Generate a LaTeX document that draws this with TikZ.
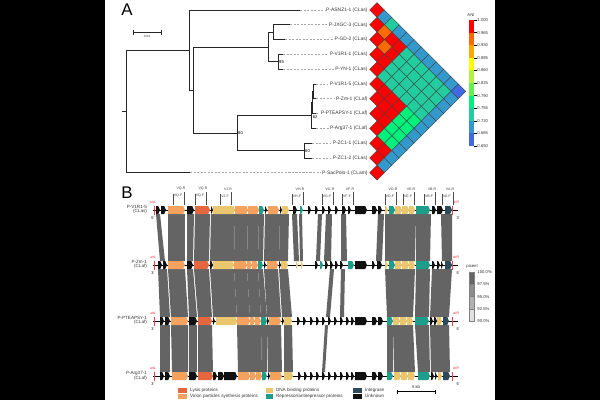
\documentclass[tikz,border=0pt]{standalone}
\usepackage{fontspec}
\setmainfont{Liberation Sans}
\usetikzlibrary{positioning}
\definecolor{anir}{HTML}{FF0000}
\definecolor{anio}{HTML}{FF6A00}
\definecolor{anin}{HTML}{FFA800}
\definecolor{aniy}{HTML}{FFFF00}
\definecolor{aniv}{HTML}{B4F03C}
\definecolor{anil}{HTML}{66F050}
\definecolor{anig}{HTML}{00F07C}
\definecolor{anit}{HTML}{22CC9E}
\definecolor{anis}{HTML}{3399CC}
\definecolor{anib}{HTML}{4169E1}
\definecolor{lyscol}{HTML}{E4673F}
\definecolor{vircol}{HTML}{F4A25E}
\definecolor{dnacol}{HTML}{EAC66E}
\definecolor{repcol}{HTML}{1E9E8A}
\definecolor{intcol}{HTML}{2D4B5B}
\definecolor{unkcol}{HTML}{111111}
\definecolor{attred}{HTML}{E8404F}
\definecolor{bandgray}{HTML}{646464}
\tikzset{panel/.style={inner sep=0pt, font=\fontsize{24}{24}\selectfont}}
\tikzset{branch/.style={line width=1.3pt, black!85}}
\tikzset{leafdash/.style={gray!70, dash pattern=on 3pt off 2pt, line width=0.9pt}}
\tikzset{leaflab/.style={anchor=east, inner sep=0.5pt, font=\fontsize{7}{8}\selectfont, text=black!80}}
\tikzset{boot/.style={anchor=west, inner sep=0.5pt, font=\fontsize{6}{7}\selectfont}}
\tikzset{cell/.style={draw=black!75, line width=0.5pt}}
\tikzset{tinylab/.style={inner sep=0.5pt, font=\fontsize{6}{7}\selectfont, text=black!80}}
\tikzset{tracklab/.style={anchor=east, inner sep=0pt, font=\fontsize{6.5}{7}\selectfont, text=black!80}}
\tikzset{attlab/.style={inner sep=0pt, font=\fontsize{5}{6}\selectfont, text=attred}}
\tikzset{endlab/.style={inner sep=0pt, font=\fontsize{5.5}{6}\selectfont}}
\tikzset{primer/.style={inner sep=0pt, font=\fontsize{5}{6}\selectfont, text=black!75}}
\tikzset{leglab/.style={anchor=west, inner sep=0pt, font=\fontsize{6.5}{7}\selectfont, text=black!80}}
\newcommand{\anirow}[2]{%
  \foreach \c [count=\k from #1] in {#2} {
    \pgfmathsetmacro\cx{377+(\k-#1)*7.4}
    \pgfmathsetmacro\cy{10+(\k+#1)*7.4}
    \filldraw[cell, fill=ani\c] (\cx-7.4,\cy) -- (\cx,\cy-7.4) -- (\cx+7.4,\cy) -- (\cx,\cy+7.4) -- cycle;
  }}
\newcommand{\genes}[2]{%
  \foreach \xa/\xb/\c in {#2} {
    \fill[\c] (\xa,#1-4) -- ({max(\xa,\xb-1.8)},#1-4) -- (\xb,#1) -- ({max(\xa,\xb-1.8)},#1+4) -- (\xa,#1+4) -- cycle;
  }}
\newcommand{\bands}[3]{%
  \foreach \xa/\xb/\xc/\xd in {#3} {
    \fill[bandgray] (\xa,#1) -- (\xb,#1) -- (\xd,#2) -- (\xc,#2) -- cycle;
  }}
\begin{document}
\begin{tikzpicture}[x=0.05cm,y=-0.05cm]

\fill[black] (0,0) rectangle (600,400);
\fill[white] (105,0) rectangle (495,400);

\node[panel] (pa) at (127,10) {A};
\node[panel] (pb) at (127,193) {B};

\draw[branch, line width=0.8pt] (133,29.5) -- (133,34.5) (133,32) -- (161,32) (161,29.5) -- (161,34.5);
\node[tinylab, font=\fontsize{4.5}{5}\selectfont] (scale) at (147,36.5) {0.04};

\foreach \nm [count=\k from 0] in {P-ASNZ1-1 (CLas), P-JXGC-3 (CLas), P-GD-2 (CLas), P-V1R1-1 (CLas), P-YN-1 (CLas), P-V1R1-5 (CLas), P-Zm-1 (CLaf), P-PTEAPSY-1 (CLaf), P-Arg37-1 (CLaf), P-ZC1-1 (CLas), P-ZC1-2 (CLas), P-SacPolo-1 (CLam)}
  \node[leaflab] (l\k) at (368,10+14.8*\k) {\nm};
\foreach \k/\x in {0/300,1/290,2/285,3/283,4/283,5/316,6/316,7/316,8/316,9/312,10/312,11/190}
  \coordinate (t\k) at (\x,10+14.8*\k);

\coordinate (root) at (126,111.4);
\coordinate (nA) at (189,50);
\coordinate (nX) at (193,90);
\coordinate (nBC) at (268,47);
\coordinate (nB) at (273,32.2);
\coordinate (nC) at (278,61.8);
\coordinate (nDE) at (237,133);
\coordinate (nD) at (311,115.5);
\coordinate (nD2) at (312,102.5);
\coordinate (nD1) at (313,91.4);
\coordinate (nE) at (304,150.6);

\draw[branch] (root) -- ++(-4,0);
\draw[branch] (root) |- (nA);
\draw[branch] (root) |- (t11);
\draw[branch] (nA) |- (t0);
\draw[branch] (nA) |- (nX);
\draw[branch] (nX) |- (nBC);
\draw[branch] (nX) |- (nDE);
\draw[branch] (nBC) |- (nB);
\draw[branch] (nBC) |- (nC);
\draw[branch] (nB) |- (t1);
\draw[branch] (nB) |- (t2);
\draw[branch] (nC) |- (t3);
\draw[branch] (nC) |- (t4);
\draw[branch] (nDE) |- (nD);
\draw[branch] (nDE) |- (nE);
\draw[branch] (nD) |- (nD2);
\draw[branch] (nD) |- (t8);
\draw[branch] (nD2) |- (nD1);
\draw[branch] (nD2) |- (t7);
\draw[branch] (nD1) |- (t5);
\draw[branch] (nD1) |- (t6);
\draw[branch] (nE) |- (t9);
\draw[branch] (nE) |- (t10);
\foreach \k in {0,...,11}
  \draw[leafdash] (t\k) -- ([xshift=-1.5pt]l\k.west);

\node[boot] (b95) at ([xshift=1pt]nC) {95};
\node[boot, anchor=north west] (b62) at ([xshift=2pt]nD) {62};
\node[boot] (b80) at ([xshift=1pt]nDE) {80};
\node[boot] (b60) at ([xshift=1pt]nE) {60};

\anirow{0}{r,s,t,s,s,s,s,s,s,s,s,b}
\anirow{1}{r,o,r,r,t,t,t,t,t,t,s}
\anirow{2}{r,o,r,t,t,t,t,t,t,s}
\anirow{3}{r,r,t,t,t,t,t,t,s}
\anirow{4}{r,t,t,t,t,t,t,s}
\anirow{5}{r,r,r,r,g,g,s}
\anirow{6}{r,r,r,g,g,s}
\anirow{7}{r,r,g,g,s}
\anirow{8}{r,g,g,s}
\anirow{9}{r,r,s}
\anirow{10}{r,s}
\anirow{11}{r}

\node[tinylab] (anit) at (471,15) {ANI};
\foreach \c [count=\k from 0] in {r,o,n,y,v,l,g,t,s,b}
  \fill[ani\c] (469,20+12.6*\k) rectangle (474,32.6+12.6*\k);
\foreach \v [count=\k from 0] in {1.000,0.965,0.930,0.895,0.860,0.825,0.790,0.755,0.720,0.685,0.650} {
  \draw[line width=0.4pt] (474,20+12.6*\k) -- (476.5,20+12.6*\k);
  \node[tinylab, anchor=west] (cb\k) at (477,20+12.6*\k) {\v};
}

\bands{214}{261}{156/160/160/165, 168/185/168/185, 187/194/187/193, 195/210/194/209, 211/235/210/234, 235/248/234/247, 248/259/247/258, 259/264/258/263, 265/280/264/279, 280/289/279/288, 292/297/294/299, 299/302/300/303, 318/322/316/320, 326/332/324/331, 341/346/341/347, 378/384/376/382, 385/400/385/400, 400/416/400/415, 416/431/416/430, 441/452/442/452}
\bands{269}{317}{158/167/160/170, 168/185/171/188, 187/193/189/197, 194/209/198/212, 210/234/213/237, 234/247/237/250, 247/258/250/261, 258/263/261/267, 264/278/267/281, 279/288/282/292, 330/334/326/330, 341/345/340/344, 385/415/387/413, 416/430/415/429, 432/452/430/449}
\bands{325}{372}{160/170/160/170, 171/188/172/188, 189/197/189/197, 198/212/198/213, 237/250/238/250, 250/261/250/262, 261/267/262/267, 267/281/268/282, 284/292/284/293, 325/328/322/325, 387/393/387/393, 393/413/394/415, 415/429/418/430, 430/449/431/450}

\foreach \y in {210,265,321,376}
  \draw[line width=1pt] (153,\y) -- (458,\y);

\genes{210}{156/160/unkcol, 161/166/unkcol, 168/185/vircol, 187/194/unkcol, 195/210/lyscol, 211/213/unkcol, 213/235/dnacol, 235/248/vircol, 248/259/vircol, 259/264/repcol, 265/267/unkcol, 268/279/vircol, 280/282/unkcol, 282/289/dnacol, 293/297/unkcol, 300/303/repcol, 308/311/unkcol, 315/318/unkcol, 322/325/unkcol, 328/331/unkcol, 335/338/unkcol, 342/346/unkcol, 348/351/unkcol, 355/367/unkcol, 372/377/unkcol, 378/382/unkcol, 385/388/dnacol, 389/395/repcol, 395/402/dnacol, 402/409/dnacol, 409/415/dnacol, 416/430/repcol, 432/436/unkcol, 437/443/unkcol, 445/452/intcol}
\genes{265}{158/162/unkcol, 163/167/unkcol, 168/185/vircol, 187/193/unkcol, 194/209/lyscol, 210/213/unkcol, 213/234/dnacol, 234/247/vircol, 247/252/vircol, 252/258/vircol, 258/263/repcol, 264/266/unkcol, 267/278/vircol, 279/281/unkcol, 281/288/dnacol, 296/298/dnacol, 301/303/dnacol, 315/318/unkcol, 320/323/repcol, 325/328/unkcol, 330/333/unkcol, 335/338/unkcol, 340/343/unkcol, 348/354/repcol, 355/367/unkcol, 372/375/unkcol, 377/382/unkcol, 385/388/dnacol, 389/395/repcol, 395/402/dnacol, 402/409/dnacol, 409/415/dnacol, 416/430/repcol, 432/435/unkcol, 437/440/unkcol, 441/443/unkcol, 445/452/intcol}
\genes{321}{160/164/unkcol, 165/170/unkcol, 171/188/vircol, 189/197/unkcol, 198/212/lyscol, 213/215/unkcol, 216/237/dnacol, 237/250/vircol, 250/255/vircol, 255/261/vircol, 261/267/repcol, 267/269/unkcol, 269/281/vircol, 282/284/unkcol, 284/292/dnacol, 297/300/unkcol, 303/306/unkcol, 310/313/unkcol, 316/319/unkcol, 322/325/unkcol, 328/331/unkcol, 334/337/unkcol, 340/343/unkcol, 346/349/unkcol, 351/354/unkcol, 355/367/unkcol, 372/377/unkcol, 378/383/unkcol, 387/393/repcol, 393/400/dnacol, 400/407/dnacol, 407/413/dnacol, 415/429/repcol, 430/433/unkcol, 434/437/unkcol, 437/442/dnacol, 443/449/intcol}
\genes{376}{160/164/unkcol, 165/170/unkcol, 172/188/vircol, 189/197/unkcol, 198/213/lyscol, 213/217/unkcol, 218/224/unkcol, 224/237/unkcol, 238/250/vircol, 250/256/vircol, 256/262/vircol, 262/267/repcol, 268/270/unkcol, 270/282/vircol, 284/293/dnacol, 298/301/unkcol, 304/307/unkcol, 310/313/unkcol, 316/319/unkcol, 322/325/unkcol, 328/331/unkcol, 334/337/unkcol, 340/343/unkcol, 346/349/unkcol, 351/354/unkcol, 355/367/unkcol, 372/377/unkcol, 378/383/unkcol, 387/393/repcol, 394/401/dnacol, 401/408/dnacol, 408/415/dnacol, 418/430/repcol, 431/434/unkcol, 435/437/unkcol, 438/442/dnacol, 443/450/intcol}

\foreach \y/\k in {210/1,265/2,321/3,376/4} {
  \draw[attred, line width=1.2pt] (154.5,\y-4.5) -- (154.5,\y+5);
  \draw[attred, line width=1.2pt] (452.8,\y-4.5) -- (452.8,\y+5);
  \node[attlab] (attl\k) at (153,\y-8) {attL};
  \node[attlab] (attr\k) at (456,\y-8) {attR};
}
\foreach \y/\k in {265/2,321/3,376/4} {
  \node[endlab] (tp\k) at (153,\y+8) {3'};
  \node[endlab] (fp\k) at (458,\y+8) {5'};
}
\node[endlab] (tp1) at (153,218) {5'};
\node[endlab] (fp1) at (458,218) {3'};

\node[tracklab] (tn1) at (147,207) {P-V1R1-5};
\node[tracklab, below=1pt of tn1.south east, anchor=north east] (tc1) {(CLas)};
\node[tracklab] (tn2) at (147,262) {P-Zm-1};
\node[tracklab, below=1pt of tn2.south east, anchor=north east] (tc2) {(CLaf)};
\node[tracklab] (tn3) at (147,318) {P-PTEAPSY-1};
\node[tracklab, below=1pt of tn3.south east, anchor=north east] (tc3) {(CLaf)};
\node[tracklab] (tn4) at (147,373) {P-Arg37-1};
\node[tracklab, below=1pt of tn4.south east, anchor=north east] (tc4) {(CLaf)};

\foreach \x/\nm [count=\k] in {181/VQ, 203/VQ, 228/VJ, 300/VH, 330/VG, 350/VF, 393/VD, 411/VE, 432/VB, 450/VA} {
  \node[primer] (pr\k) at (\x,189) {\nm-R};
  \node[primer] (pf\k) at (\x-3,196) {\nm-F};
  \draw[line width=0.3pt, black!70] (\x-8,194) -- (\x-8,205);
  \draw[line width=0.3pt, black!70] (\x+3,192) -- (\x+3,205);
}

\node[tinylab, anchor=west] (pct) at (466,266) {picent};
\foreach \c [count=\k from 0] in {black!60, black!45, black!30, black!12}
  \filldraw[fill=\c, draw=black!50, line width=0.3pt] (469,272+12.3*\k) rectangle (474,284.3+12.3*\k);
\foreach \v [count=\k from 0] in {100.0,97.5,95.0,92.5,90.0}
  \node[tinylab, anchor=west] (pc\k) at (477,272+12.3*\k) {\v\%};

\fill[lyscol] (178,388) rectangle (187,392.5);
\node[leglab] (lg1) at (190,390) {Lysis proteins};
\fill[vircol] (178,394) rectangle (187,398.5);
\node[leglab] (lg2) at (190,396) {Virion particles synthesis proteins};
\fill[dnacol] (266,388) rectangle (273,392.5);
\node[leglab] (lg3) at (276,390) {DNA binding proteins};
\fill[repcol] (266,394) rectangle (273,398.5);
\node[leglab] (lg4) at (276,396) {Repressor/antirepressor proteins};
\fill[intcol] (353,388) rectangle (362,392.5);
\node[leglab] (lg5) at (365,390) {Integrase};
\fill[unkcol] (353,394) rectangle (362,398.5);
\node[leglab] (lg6) at (365,396) {Unknown};
\draw[line width=0.5pt] (397,391.5) -- (435,391.5) (397,389.5) -- (397,393.5) (435,389.5) -- (435,393.5);
\node[tinylab] (kb) at (416,387) {5 kb};

\end{tikzpicture}
\end{document}
